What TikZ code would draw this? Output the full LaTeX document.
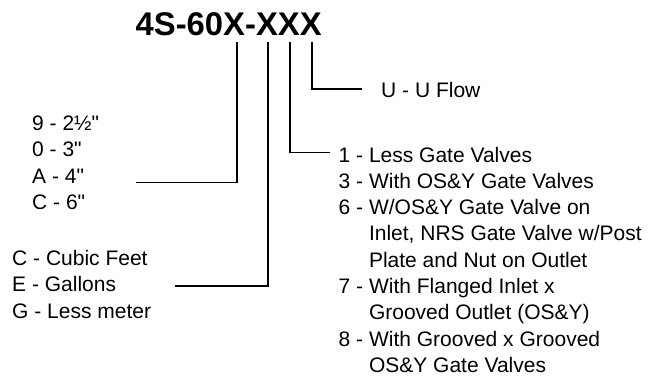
\documentclass[tikz,border=0pt]{standalone}
\usepackage{fontspec}
\setmainfont{Liberation Sans}[Ligatures=TeXOff]
\begin{document}
\begin{tikzpicture}[x=1pt,y=-1pt,
  lbl/.style={anchor=base west,inner sep=0pt,font=\fontsize{21pt}{26pt}\selectfont},
  ttl/.style={anchor=base west,inner sep=0pt,font=\fontsize{32.8pt}{36pt}\selectfont\bfseries},
  conn/.style={draw=black,line width=1.1pt}]
\useasboundingbox (0,0) rectangle (661,375);
% title
\node[ttl] (title) at (135.5,35) {4S-60X-XXX};
% left upper block
\node[lbl] (a1) at (32,130) {9 - 2½"};
\node[lbl] (a2) at (32,156.5) {0 - 3"};
\node[lbl] (a3) at (32,183) {A - 4"};
\node[lbl] (a4) at (32,209.5) {C - 6"};
% left lower block
\node[lbl] (b1) at (12,265) {C - Cubic Feet};
\node[lbl] (b2) at (12,291.5) {E - Gallons};
\node[lbl] (b3) at (12,318) {G - Less meter};
% right top
\node[lbl] (u1) at (381,97.5) {U - U Flow};
% right block
\node[lbl] (r1) at (338.5,162) {1 - Less Gate Valves};
\node[lbl] (r2) at (338.5,188.3) {3 - With OS\&Y Gate Valves};
\node[lbl] (r3) at (338.5,214.6) {6 - W/OS\&Y Gate Valve on};
\node[lbl] (r4) at (338.5,240.9) {\hphantom{6 - }Inlet, NRS Gate Valve w/Post};
\node[lbl] (r5) at (338.5,267.2) {\hphantom{6 - }Plate and Nut on Outlet};
\node[lbl] (r6) at (338.5,293.5) {7 - With Flanged Inlet x};
\node[lbl] (r7) at (338.5,319.8) {\hphantom{7 - }Grooved Outlet (OS\&Y)};
\node[lbl] (r8) at (338.5,346.1) {8 - With Grooved x Grooved};
\node[lbl] (r9) at (338.5,372) {\hphantom{8 - }OS\&Y Gate Valves};
% connector coordinates
\coordinate (t1) at (237,42);
\coordinate (t2) at (268,42);
\coordinate (t3) at (290,42);
\coordinate (t4) at (312,42);
\coordinate (e1) at (136,182.3);
\coordinate (e2) at (175,286);
\coordinate (e3) at (330,152.5);
\coordinate (e4) at (362,89);
\draw[conn] (t1) |- (e1);
\draw[conn] (t2) |- (e2);
\draw[conn] (t3) |- (e3);
\draw[conn] (t4) |- (e4);
\end{tikzpicture}
\end{document}
